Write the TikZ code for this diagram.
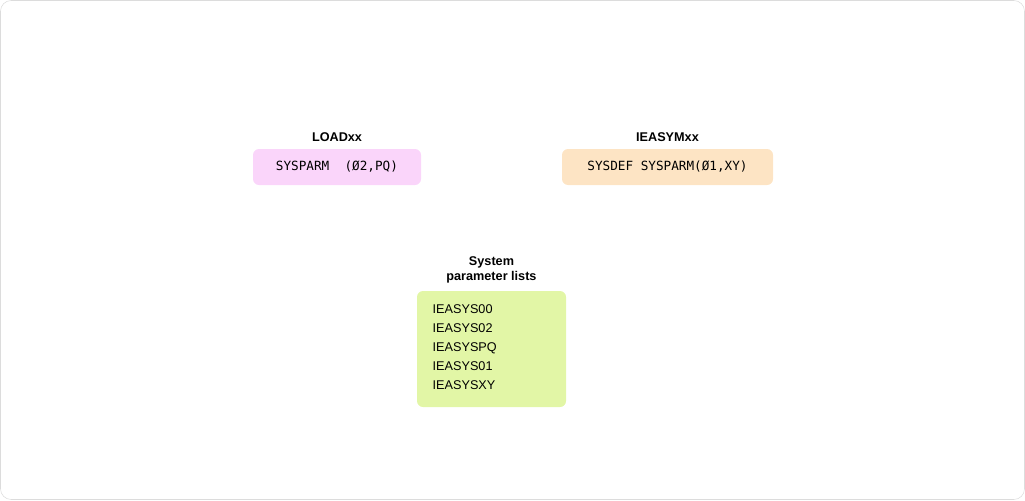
\documentclass[tikz,border=0pt]{standalone}
\usepackage{fontspec}
\setmainfont{Liberation Sans}
\newfontfamily\codefont{DejaVu Sans Mono}
\usetikzlibrary{positioning}
\definecolor{loadcolor}{RGB}{250, 213, 250}
\definecolor{symcolor}{RGB}{253, 228, 196}
\definecolor{listcolor}{RGB}{226, 246, 166}
\definecolor{framecolor}{RGB}{220, 220, 220}

\begin{document}
\begin{tikzpicture}[x=0.75pt, y=-0.75pt,
        title/.style={font=\fontsize{9.5}{11.5}\selectfont\bfseries, align=center},
        member/.style={rounded corners=4.5pt, inner sep=0pt, font=\codefont\fontsize{9.5}{11}\selectfont}]

        % Frame
        \useasboundingbox (0, 0) rectangle (1025, 500);
        \draw[framecolor, rounded corners=8pt] (0.5, 0.5) rectangle (1024.5, 499.5);

        % Parmlib members
        \node[member, fill=loadcolor, minimum width=168*0.75pt, minimum height=36*0.75pt] (load) at (337, 167) {SYSPARM\ \ (Ø2,PQ)};
        \node[title, above=2pt of load] (loadtitle) {LOADxx};

        \node[member, fill=symcolor, minimum width=211*0.75pt, minimum height=36*0.75pt] (sym) at (667.5, 167) {SYSDEF SYSPARM(Ø1,XY)};
        \node[title, above=2pt of sym] (symtitle) {IEASYMxx};

        % System parameter lists
        \node[member, fill=listcolor, minimum width=149*0.75pt, minimum height=116*0.75pt] (lists) at (491.5, 349) {};
        \node[font=\fontsize{9.5}{14.3}\selectfont, align=left, anchor=north west] (names) at (428, 300)
            {IEASYS00\\IEASYS02\\IEASYSPQ\\IEASYS01\\IEASYSXY};
        \node[title, above=2pt of lists] (liststitle) {System\\parameter lists};
    \end{tikzpicture}
\end{document}
